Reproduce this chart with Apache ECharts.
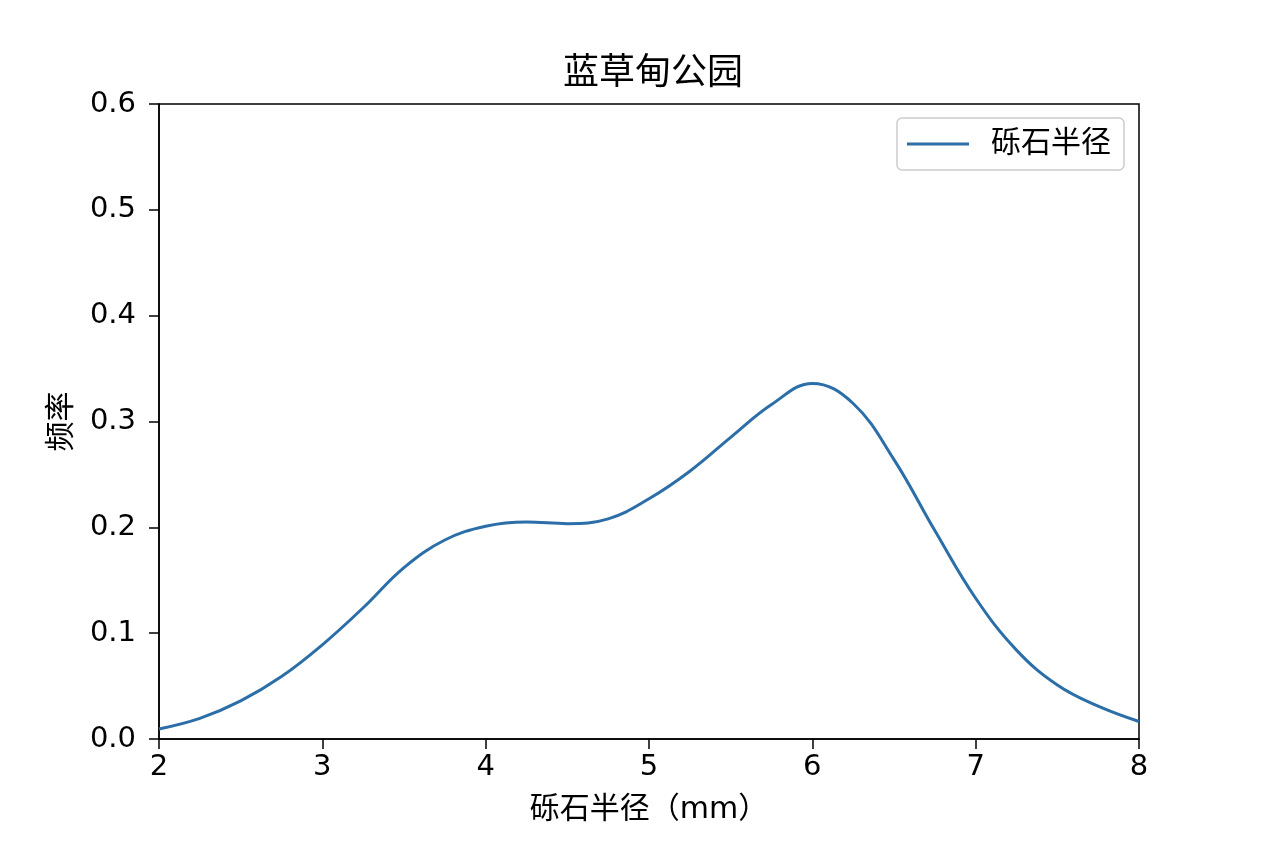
<!DOCTYPE html>
<html>
<head>
<meta charset="utf-8">
<script src="https://cdn.jsdelivr.net/npm/echarts@6/dist/echarts.min.js"></script>
<style>
html, body { margin: 0; padding: 0; background: #fff; }
#main { width: 1264px; height: 843px; }
</style>
</head>
<body>
<div id="main"></div>
<script>
// 砾石半径 (mm) and the density
var radius = [2.0, 2.25, 2.5, 2.75, 3.0, 3.25, 3.5, 3.75, 4.0, 4.25, 4.5, 4.75, 5.0,
              5.25, 5.5, 5.75, 6.0, 6.25, 6.5, 6.75, 7.0, 7.25, 7.5, 7.75, 8.0];
var freq = [0.0095, 0.0195, 0.036, 0.059, 0.089, 0.124, 0.162, 0.188, 0.201, 0.205, 0.2035, 0.208, 0.227,
            0.253, 0.285, 0.316, 0.336, 0.317, 0.264, 0.197, 0.133, 0.084, 0.051, 0.031, 0.0165];
var xTicks = [2, 8, 1];
var yTicks = [0, 0.6, 0.1];

var font = '"DejaVu Sans", "Noto Sans CJK SC", sans-serif';
var pts = radius.map(function (r, i) { return [r, freq[i]]; });

var myChart = echarts.init(document.getElementById('main'));
var option = {
    animation: false,
    backgroundColor: '#fff',
    textStyle: { fontFamily: font, color: '#000' },
    title: {
        text: '蓝草甸公园',
        left: 558,
        top: 52,
        textStyle: { fontSize: 36, fontWeight: 'normal', color: '#000', fontFamily: font }
    },
    legend: {
        right: 140,
        top: 118,
        icon: 'rect',
        itemWidth: 62,
        itemHeight: 3,
        padding: [11, 13, 11, 10],
        borderColor: '#cccccc',
        borderWidth: 1.5,
        borderRadius: 5,
        textStyle: { fontSize: 30, color: '#000', fontFamily: font, padding: [0, 0, 0, 17] },
        data: ['砾石半径']
    },
    grid: {
        left: 159, right: 125, top: 104, bottom: 104,
        show: true, borderColor: '#000', borderWidth: 1.5,
        containLabel: false
    },
    xAxis: {
        type: 'value',
        min: xTicks[0], max: xTicks[1], interval: xTicks[2],
        name: '砾石半径（mm）',
        nameLocation: 'middle',
        nameGap: 56,
        nameTextStyle: { fontSize: 30, color: '#000', fontFamily: font },
        axisLine: { show: true, onZero: false, lineStyle: { color: '#000', width: 1.5 } },
        axisTick: { show: true, length: 10, lineStyle: { color: '#000', width: 1.5 } },
        axisLabel: { fontSize: 29, color: '#000', margin: 14, fontFamily: font },
        splitLine: { show: false }
    },
    yAxis: {
        type: 'value',
        min: yTicks[0], max: yTicks[1], interval: yTicks[2],
        name: '频率',
        nameLocation: 'middle',
        nameGap: 82,
        nameRotate: 90,
        nameTextStyle: { fontSize: 30, color: '#000', fontFamily: font },
        axisLine: { show: true, lineStyle: { color: '#000', width: 1.5 } },
        axisTick: { show: true, length: 10, lineStyle: { color: '#000', width: 1.5 } },
        axisLabel: {
            fontSize: 29, color: '#000', margin: 23, fontFamily: font,
            formatter: function (v) { return v.toFixed(1); }
        },
        splitLine: { show: false }
    },
    series: [{
        name: '砾石半径',
        type: 'line',
        data: pts,
        smooth: 0.4,
        showSymbol: false,
        lineStyle: { color: '#2b6ea8', width: 3 },
        itemStyle: { color: '#2b6ea8' }
    }]
};
myChart.setOption(option);
</script>
</body>
</html>
